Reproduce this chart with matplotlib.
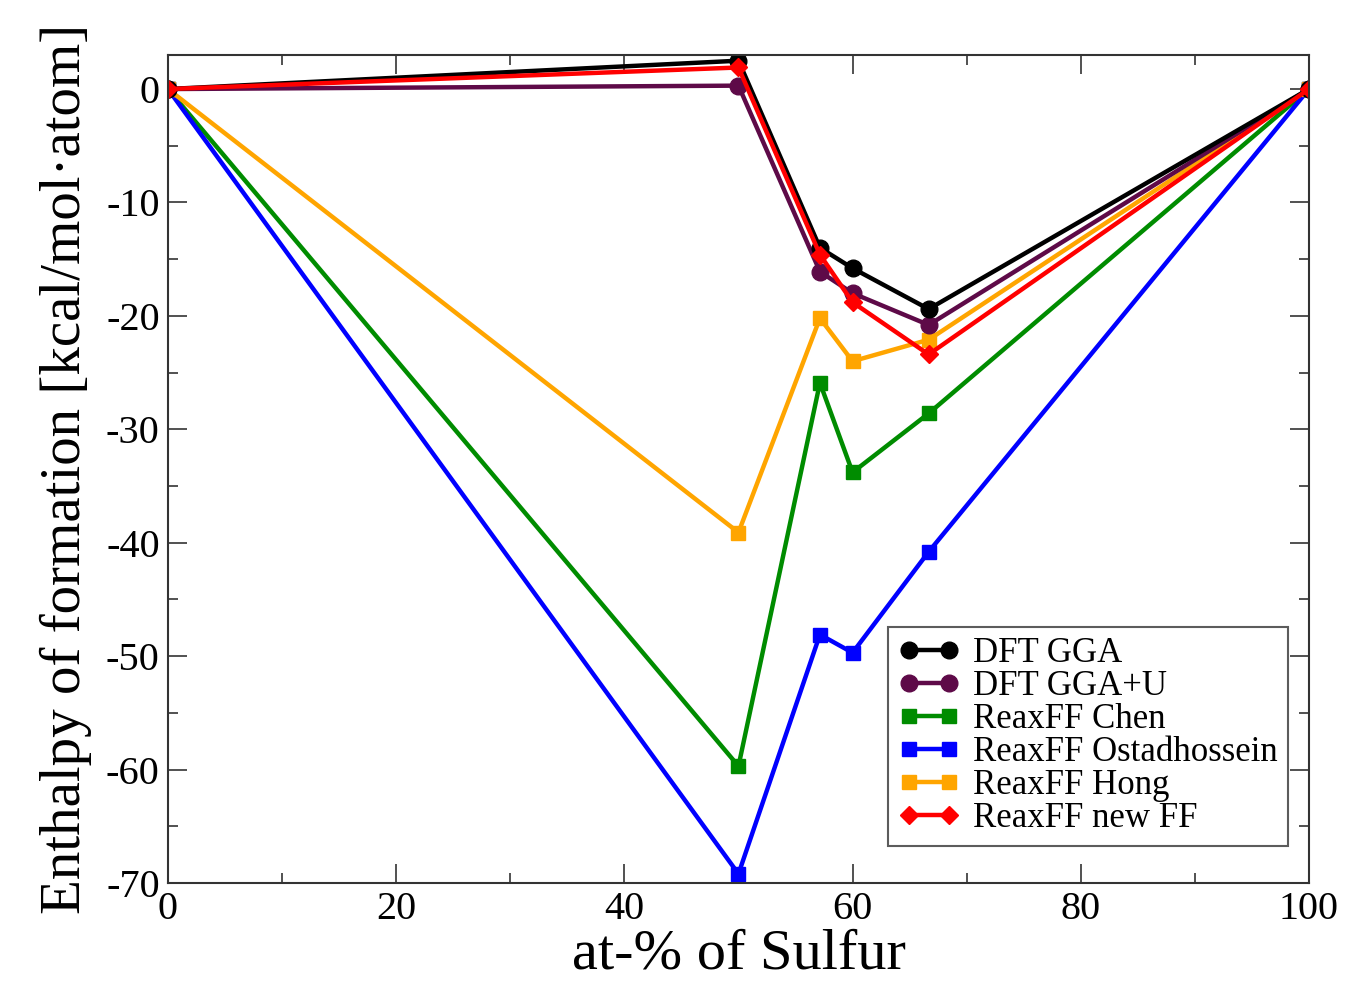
import matplotlib
matplotlib.use("Agg")
import matplotlib.pyplot as plt
from matplotlib.ticker import MultipleLocator

plt.rcParams['font.family'] = ['Liberation Serif', 'DejaVu Serif']
plt.rcParams['axes.unicode_minus'] = False

x = [0, 50, 57.14, 60, 66.67, 100]
dft_gga = [0, 2.5, -14.0, -15.8, -19.4, 0]
dft_ggau = [0, 0.3, -16.1, -18.0, -20.8, 0]
chen = [0, -59.7, -25.9, -33.8, -28.6, 0]
ostad = [0, -69.2, -48.1, -49.7, -40.8, 0]
hong = [0, -39.1, -20.2, -24.0, -22.1, 0]
newff = [0, 1.9, -14.6, -18.8, -23.4, 0]

labels = ["DFT GGA", "DFT GGA+U", "ReaxFF Chen", "ReaxFF Ostadhossein",
          "ReaxFF Hong", "ReaxFF new FF"]

fig = plt.figure(figsize=(13.45, 9.86), dpi=100)
ax = fig.add_axes([0.1249, 0.1045, 0.8483, 0.8397])

series = [
    (chen, "#008c00", "s", 10, labels[2]),
    (ostad, "#0000ff", "s", 10, labels[3]),
    (hong, "#ffa500", "s", 10, labels[4]),
    (dft_ggau, "#5e0a48", "o", 12, labels[1]),
    (dft_gga, "#000000", "o", 12, labels[0]),
    (newff, "#ff0000", "D", 9, labels[5]),
]
handles = {}
for ys, c, m, ms, lab in series:
    h, = ax.plot(x, ys, color=c, marker=m, markersize=ms, linewidth=3.2,
                 label=lab)
    handles[lab] = h

ax.set_xlim(0, 100)
ax.set_ylim(-70, 3)
ax.xaxis.set_major_locator(MultipleLocator(20))
ax.xaxis.set_minor_locator(MultipleLocator(10))
ax.yaxis.set_major_locator(MultipleLocator(10))
ax.yaxis.set_minor_locator(MultipleLocator(5))
ax.tick_params(which='both', direction='in', top=True, right=True,
               color='#333333')
ax.tick_params(which='major', length=14, width=1.2, labelsize=29, pad=6)
ax.tick_params(which='minor', length=7, width=1.2)
for s in ax.spines.values():
    s.set_color('#333333')
    s.set_linewidth(1.5)

ax.set_xlabel("at-% of Sulfur", fontsize=42, labelpad=0)
ax.set_ylabel("Enthalpy of formation [kcal/mol\u00b7atom]", fontsize=41,
              labelpad=10)

leg = ax.legend([handles[l] for l in labels], labels, loc='lower right',
                bbox_to_anchor=(0.982, 0.045), numpoints=2, fontsize=25,
                frameon=True, fancybox=False, handlelength=1.75,
                handletextpad=0.4, labelspacing=0.0, borderpad=0.3,
                borderaxespad=0)
leg.get_frame().set_edgecolor('#333333')
leg.get_frame().set_linewidth(1.5)

fig.savefig("out.png", dpi=100)
